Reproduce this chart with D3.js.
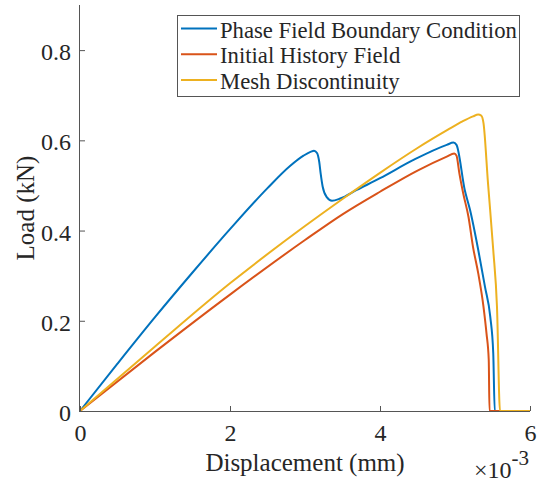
<!DOCTYPE html>
<html>
<head>
<meta charset="utf-8">
<script src="https://cdn.jsdelivr.net/npm/d3@7"></script>
<style>
  body { margin: 0; background: #fff; }
  text { font-family: "Liberation Serif", "Times New Roman", serif; fill: #262626; }
</style>
</head>
<body>
<div id="chart"></div>
<script>
// displacement in 1e-3 mm, load in kN
var seriesNames = ["Phase Field Boundary Condition", "Initial History Field", "Mesh Discontinuity"];
var seriesColors = ["#0072BD", "#D95319", "#EDB120"];

var dispPF = [0, 0.5, 1.0, 1.5, 2.0, 2.5, 2.8, 2.98, 3.08, 3.12, 3.16, 3.19, 3.21, 3.236, 3.29, 3.36, 3.47, 3.69, 4.0, 4.44, 4.89, 4.98, 5.02, 5.13, 5.2, 5.31, 5.4, 5.47, 5.51, 5.53, 6.0];
var loadPF = [0, 0.105, 0.208, 0.307, 0.403, 0.494, 0.543, 0.566, 0.575, 0.577, 0.572, 0.552, 0.525, 0.497, 0.474, 0.466, 0.471, 0.49, 0.516, 0.556, 0.59, 0.595, 0.59, 0.49, 0.446, 0.357, 0.275, 0.209, 0.128, 0, 0];

var dispHF = [0, 1.0, 2.0, 3.0, 3.5, 4.0, 4.5, 4.89, 4.99, 5.02, 5.06, 5.11, 5.18, 5.24, 5.31, 5.38, 5.42, 5.45, 5.46, 6.0];
var loadHF = [0, 0.131, 0.258, 0.379, 0.436, 0.486, 0.533, 0.564, 0.571, 0.566, 0.525, 0.482, 0.43, 0.364, 0.305, 0.231, 0.172, 0.113, 0, 0];

var dispMD = [0, 1.0, 2.0, 3.0, 3.5, 4.0, 4.5, 4.9, 5.1, 5.24, 5.31, 5.35, 5.38, 5.44, 5.51, 5.56, 5.6, 6.0];
var loadMD = [0, 0.143, 0.283, 0.41, 0.47, 0.528, 0.583, 0.623, 0.642, 0.653, 0.657, 0.655, 0.638, 0.505, 0.357, 0.23, 0, 0];

var xTicks = [0, 2, 4, 6];
var yTicks = [0, 0.2, 0.4, 0.6, 0.8];

(function() {
    var width = 537, height = 484;
    var mLeft = 80, mRight = 530, mTop = 5, mBottom = 411;
    var serif = "'Liberation Serif', 'Times New Roman', serif";

    var svg = d3.select("#chart")
        .append("svg")
        .attr("width", width)
        .attr("height", height)

    var x = d3.scaleLinear().domain([0, 6]).range([mLeft, mRight])
    var y = d3.scaleLinear().domain([0, 0.9]).range([mBottom, mTop])

    // curves first, axes on top like matlab
    var series = [
        { xs: dispPF, ys: loadPF },
        { xs: dispHF, ys: loadHF },
        { xs: dispMD, ys: loadMD }
    ]

    var line = d3.line()
        .x(function(d) { return x(d[0]) })
        .y(function(d) { return y(d[1]) })
        .curve(d3.curveMonotoneX)

    series.forEach(function(s, i) {
        var pts = s.xs.map(function(v, j) { return [v, s.ys[j]] })
        svg.append("path")
            .datum(pts)
            .attr("d", line)
            .attr("fill", "none")
            .attr("stroke", seriesColors[i])
            .attr("stroke-width", 2)
            .attr("stroke-linejoin", "round")
    })

    // axes, ticks point inward
    var xAxis = svg.append("g")
        .attr("transform", "translate(0," + mBottom + ")")
        .call(d3.axisBottom(x).tickValues(xTicks).tickFormat(d3.format("d")).tickSizeInner(-5).tickSizeOuter(0).tickPadding(13))
    xAxis.attr("font-family", serif)
    xAxis.selectAll("text").style("font-size", "24px").style("font-family", serif)

    var yAxis = svg.append("g")
        .attr("transform", "translate(" + mLeft + ",0)")
        .call(d3.axisLeft(y).tickValues(yTicks).tickFormat(function(d) { return d === 0 ? "0" : d3.format(".1f")(d) }).tickSizeInner(-5).tickSizeOuter(0).tickPadding(9))
    yAxis.attr("font-family", serif)
    yAxis.selectAll("text").style("font-size", "24px").style("font-family", serif).attr("dy", "0.4em")

    svg.selectAll(".tick line").attr("stroke", "#555")
    xAxis.select(".domain").attr("stroke", "#555").attr("d", "M" + mLeft + ",0.5H" + mRight)
    yAxis.select(".domain").attr("stroke", "#555").attr("d", "M-0.5," + (mBottom + 1) + "V" + mTop)

    // labels
    svg.append("text")
        .attr("x", (mLeft + mRight) / 2)
        .attr("y", 471)
        .attr("text-anchor", "middle")
        .style("font-size", "25px")
        .text("Displacement (mm)")

    svg.append("text")
        .attr("transform", "translate(34," + (mTop + mBottom) / 2 + ") rotate(-90)")
        .attr("text-anchor", "middle")
        .style("font-size", "25px")
        .text("Load (kN)")

    var expo = svg.append("text")
        .attr("x", 529)
        .attr("y", 478)
        .attr("text-anchor", "end")
        .style("font-size", "24px")
    expo.append("tspan").text("\u00d710")
    expo.append("tspan").attr("dy", -13).style("font-size", "21px").text("-3")

    // legend
    var legend = svg.append("g")
    legend.append("rect")
        .attr("x", 177.5)
        .attr("y", 15.5)
        .attr("width", 342)
        .attr("height", 81)
        .attr("fill", "#fff")
        .attr("stroke", "#555")
        .attr("stroke-width", 1)

    seriesNames.forEach(function(name, i) {
        var ly = 28.5 + i * 25.8
        legend.append("line")
            .attr("x1", 181)
            .attr("x2", 217)
            .attr("y1", ly)
            .attr("y2", ly)
            .attr("stroke", seriesColors[i])
            .attr("stroke-width", 2)
        legend.append("text")
            .attr("x", 220)
            .attr("y", ly + 9)
            .style("font-size", "22.7px")
            .text(name)
    })
})();
</script>
</body>
</html>
